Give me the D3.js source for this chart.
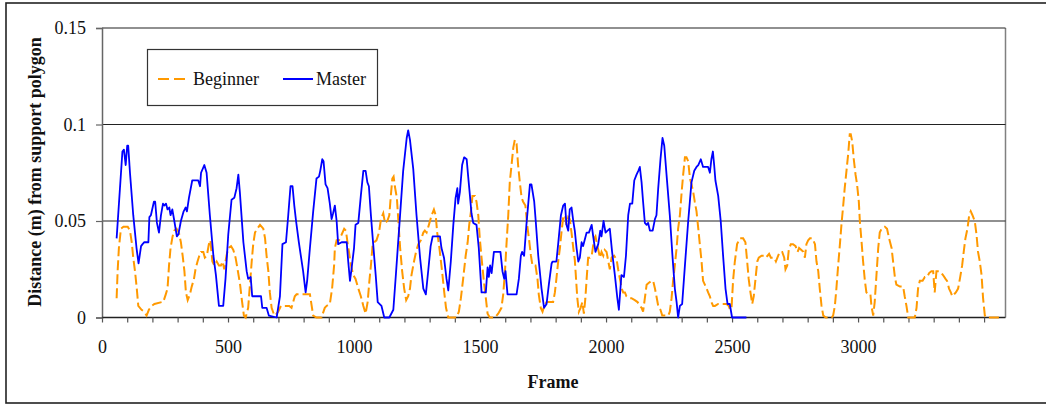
<!DOCTYPE html>
<html>
<head>
<meta charset="utf-8">
<script src="https://cdn.jsdelivr.net/npm/d3@7"></script>
<style>
  body { margin: 0; background: #fff; }
  svg { display: block; }
  svg text { font-family: "Liberation Serif", "Times New Roman", serif; fill: #111; }
</style>
</head>
<body>
<svg id="chart" width="1046" height="406"></svg>
<script>

// [frame, distance (m)]
const master = [
    [58,.041],[81,.086],[87,.087],[94,.079],[100,.089],[104,.089],[111,.075],[124,.053],[137,.036],[145,.028],
    [155,.037],[161,.038],[168,.039],[184,.039],[188,.052],[194,.053],[206,.060],[211,.060],[218,.049],[226,.044],
    [234,.053],[242,.059],[247,.058],[254,.059],[260,.056],[267,.057],[272,.053],[279,.056],[287,.050],[297,.042],
    [303,.043],[313,.050],[324,.055],[332,.057],[337,.055],[345,.062],[358,.071],[382,.071],[389,.068],[393,.075],
    [406,.079],[415,.075],[428,.053],[442,.032],[452,.022],[464,.006],[481,.006],[490,.020],[501,.043],[514,.061],
    [525,.062],[534,.067],[541,.074],[547,.065],[561,.039],[574,.024],[580,.020],[590,.021],[596,.011],[604,.011],
    [631,.011],[636,.005],[653,.005],[662,.001],[693,0],[706,.011],[716,.038],[730,.039],[739,.053],[748,.068],
    [756,.068],[763,.058],[770,.050],[781,.039],[798,.024],[808,.013],[814,.019],[825,.036],[838,.055],[851,.072],
    [861,.073],[866,.076],[874,.082],[879,.081],[887,.069],[895,.067],[904,.059],[911,.051],[917,.054],[924,.058],
    [931,.050],[937,.038],[951,.039],[971,.039],[977,.029],[984,.019],[990,.025],[1000,.036],[1006,.048],[1017,.049],
    [1027,.063],[1037,.076],[1046,.076],[1053,.070],[1059,.068],[1067,.053],[1076,.038],[1086,.022],[1094,.008],[1109,.006],
    [1120,0],[1140,0],[1156,.004],[1166,.022],[1180,.048],[1195,.076],[1209,.093],[1215,.097],[1222,.092],[1235,.077],
    [1248,.053],[1262,.031],[1275,.015],[1285,.012],[1295,.025],[1304,.037],[1312,.042],[1341,.042],[1347,.036],[1357,.031],
    [1367,.020],[1374,.014],[1384,.029],[1394,.048],[1403,.062],[1410,.067],[1413,.059],[1420,.065],[1429,.079],[1437,.083],
    [1447,.082],[1453,.073],[1460,.063],[1466,.054],[1473,.049],[1486,.048],[1495,.036],[1506,.013],[1523,.013],[1530,.026],
    [1535,.021],[1540,.027],[1546,.023],[1555,.034],[1581,.034],[1589,.024],[1596,.020],[1601,.024],[1609,.012],[1645,.012],
    [1654,.020],[1662,.032],[1667,.034],[1675,.032],[1684,.048],[1698,.069],[1704,.069],[1715,.060],[1721,.050],[1731,.032],
    [1744,.015],[1754,.005],[1764,.007],[1773,.017],[1784,.028],[1788,.029],[1803,.029],[1810,.038],[1821,.053],[1830,.058],
    [1837,.059],[1843,.048],[1850,.045],[1856,.056],[1863,.057],[1870,.050],[1876,.045],[1883,.036],[1890,.029],[1896,.031],
    [1903,.039],[1909,.037],[1923,.044],[1932,.044],[1943,.048],[1949,.042],[1958,.034],[1969,.038],[1977,.045],[1982,.042],
    [1990,.050],[1998,.044],[2006,.045],[2015,.046],[2024,.034],[2035,.022],[2044,.011],[2051,.004],[2061,.022],[2071,.021],
    [2079,.032],[2088,.053],[2095,.059],[2104,.059],[2112,.071],[2121,.074],[2128,.076],[2134,.078],[2141,.070],[2147,.060],
    [2154,.049],[2161,.048],[2167,.049],[2174,.045],[2185,.045],[2194,.051],[2200,.053],[2207,.067],[2216,.082],[2224,.093],
    [2231,.089],[2240,.074],[2253,.053],[2264,.031],[2273,.015],[2280,.008],[2286,0],[2293,.006],[2302,.007],[2313,.027],
    [2326,.050],[2339,.070],[2350,.076],[2359,.078],[2366,.079],[2376,.082],[2385,.078],[2399,.078],[2405,.078],[2412,.075],
    [2418,.082],[2424,.086],[2429,.079],[2434,.071],[2445,.063],[2455,.050],[2465,.031],[2474,.015],[2482,.007],[2491,.007],
    [2500,0],[2557,0]
];

const beginner = [
    [58,.010],[62,.024],[67,.036],[75,.046],[85,.047],[102,.047],[111,.045],[118,.039],[124,.031],[131,.024],
    [138,.015],[144,.006],[157,.004],[168,.003],[177,.001],[186,.004],[197,.006],[208,.007],[237,.008],[243,.008],
    [253,.012],[260,.015],[266,.027],[272,.036],[280,.042],[287,.045],[296,.046],[305,.044],[313,.039],[320,.032],
    [327,.024],[333,.013],[340,.009],[349,.012],[356,.016],[365,.020],[371,.025],[379,.029],[386,.032],[393,.034],
    [402,.034],[408,.031],[416,.032],[424,.038],[430,.040],[438,.029],[446,.027],[455,.029],[464,.027],[472,.027],
    [479,.029],[485,.025],[494,.032],[501,.036],[512,.037],[521,.035],[530,.031],[538,.025],[548,.017],[555,.009],
    [563,.001],[570,0],[580,.005],[587,.017],[594,.029],[600,.038],[607,.044],[616,.046],[627,.048],[640,.046],
    [647,.041],[653,.032],[660,.024],[666,.013],[673,.005],[684,.001],[693,.002],[699,.003],[710,.006],[719,.006],
    [743,.006],[752,.005],[765,.011],[772,.012],[781,.012],[792,.012],[825,.012],[832,.006],[838,.001],[851,0],
    [871,0],[884,.005],[891,.006],[904,.007],[913,.015],[921,.027],[924,.036],[931,.040],[940,.040],[951,.043],
    [961,.046],[968,.045],[975,.038],[980,.034],[988,.027],[997,.022],[1006,.020],[1017,.015],[1027,.011],[1037,.006],
    [1046,.002],[1054,.008],[1061,.019],[1067,.027],[1074,.038],[1080,.039],[1089,.040],[1099,.044],[1107,.051],[1116,.054],
    [1123,.049],[1132,.050],[1140,.053],[1146,.063],[1152,.072],[1157,.073],[1162,.068],[1170,.062],[1177,.048],[1183,.036],
    [1191,.024],[1199,.015],[1207,.009],[1215,.011],[1222,.015],[1228,.022],[1238,.029],[1246,.034],[1255,.038],[1265,.040],
    [1275,.044],[1281,.045],[1288,.044],[1297,.048],[1308,.053],[1317,.056],[1324,.053],[1330,.044],[1337,.038],[1345,.029],
    [1351,.022],[1358,.013],[1365,.005],[1374,0],[1407,0],[1416,.003],[1424,.010],[1433,.020],[1443,.032],[1451,.039],
    [1457,.048],[1464,.055],[1470,.063],[1480,.063],[1486,.060],[1493,.053],[1499,.041],[1506,.031],[1515,.019],[1523,.010],
    [1530,.002],[1539,0],[1559,0],[1572,.002],[1585,.005],[1592,.012],[1599,.024],[1605,.038],[1612,.053],[1618,.070],
    [1625,.079],[1632,.088],[1638,.092],[1645,.090],[1651,.079],[1658,.070],[1665,.062],[1671,.060],[1680,.058],[1687,.048],
    [1694,.041],[1702,.032],[1708,.027],[1720,.027],[1728,.020],[1733,.012],[1741,.005],[1748,.003],[1755,.006],[1764,.008],
    [1790,.008],[1797,.013],[1803,.020],[1810,.029],[1817,.036],[1823,.044],[1830,.052],[1837,.053],[1843,.048],[1850,.052],
    [1856,.051],[1863,.044],[1870,.036],[1876,.030],[1880,.022],[1886,.010],[1892,.003],[1899,.005],[1906,.008],[1912,.002],
    [1918,.010],[1923,.020],[1929,.031],[1936,.031],[1943,.032],[1953,.041],[1958,.042],[1966,.037],[1976,.031],[1982,.034],
    [1989,.032],[1995,.035],[2002,.034],[2009,.029],[2015,.025],[2022,.031],[2032,.032],[2042,.030],[2048,.025],[2055,.020],
    [2062,.015],[2068,.013],[2075,.013],[2081,.011],[2091,.010],[2101,.010],[2114,.009],[2125,.008],[2134,.006],[2141,.005],
    [2147,.003],[2154,.010],[2161,.017],[2170,.018],[2181,.019],[2187,.019],[2194,.015],[2200,.011],[2207,.006],[2216,.004],
    [2223,.001],[2247,.001],[2253,.003],[2260,.010],[2266,.019],[2273,.027],[2280,.036],[2286,.046],[2293,.053],[2300,.065],
    [2306,.074],[2313,.083],[2319,.083],[2326,.081],[2333,.072],[2339,.069],[2346,.065],[2352,.060],[2359,.055],[2366,.046],
    [2372,.038],[2379,.029],[2385,.019],[2392,.017],[2399,.015],[2405,.013],[2412,.011],[2418,.008],[2425,.006],[2432,.006],
    [2445,.007],[2478,.007],[2487,.006],[2492,.004],[2498,.005],[2504,.019],[2511,.029],[2520,.038],[2531,.041],[2544,.041],
    [2553,.039],[2560,.029],[2566,.020],[2573,.013],[2580,.007],[2586,.011],[2593,.020],[2600,.029],[2606,.031],[2617,.032],
    [2626,.032],[2633,.031],[2641,.032],[2647,.033],[2654,.031],[2660,.031],[2667,.031],[2674,.029],[2680,.031],[2689,.034],
    [2699,.034],[2707,.031],[2712,.025],[2719,.027],[2725,.035],[2733,.038],[2742,.038],[2752,.037],[2760,.034],[2766,.036],
    [2775,.035],[2783,.034],[2789,.031],[2795,.038],[2802,.040],[2809,.041],[2819,.041],[2829,.038],[2835,.029],[2842,.024],
    [2848,.015],[2855,.006],[2862,.001],[2872,0],[2895,0],[2901,.001],[2908,.006],[2914,.015],[2921,.027],[2928,.038],
    [2934,.048],[2941,.058],[2947,.067],[2954,.076],[2961,.085],[2967,.095],[2971,.095],[2977,.091],[2983,.082],[2990,.074],
    [2996,.069],[3003,.060],[3007,.050],[3014,.039],[3020,.029],[3027,.019],[3033,.013],[3040,.012],[3049,.012],[3053,.006],
    [3060,.001],[3066,.008],[3073,.022],[3080,.036],[3086,.044],[3093,.046],[3106,.047],[3115,.046],[3123,.041],[3133,.036],
    [3139,.029],[3146,.021],[3152,.017],[3166,.016],[3179,.016],[3185,.011],[3192,.006],[3199,0],[3225,0],[3232,.005],
    [3238,.015],[3245,.019],[3256,.019],[3265,.021],[3274,.021],[3282,.023],[3291,.024],[3298,.024],[3304,.013],[3311,.024],
    [3322,.024],[3331,.023],[3337,.022],[3347,.020],[3353,.019],[3361,.015],[3368,.013],[3374,.011],[3381,.012],[3388,.013],
    [3397,.015],[3404,.020],[3413,.027],[3421,.036],[3426,.041],[3434,.046],[3441,.053],[3447,.055],[3454,.053],[3463,.050],
    [3470,.043],[3476,.034],[3483,.029],[3490,.022],[3496,.010],[3503,.001],[3509,0],[3569,0]
];

const xTicks = d3.range(0, 3501, 100);
const xLabels = [0, 500, 1000, 1500, 2000, 2500, 3000];
const yTicks = [0, 0.05, 0.1, 0.15];
const seriesNames = ["Beginner", "Master"];

const svg = d3.select("#chart");

// plot area box
const plotLeft = 102, plotRight = 1005.5, plotTop = 28, plotBottom = 317.5;

const x = d3.scaleLinear().domain([0, 3585]).range([plotLeft, plotRight]);
const y = d3.scaleLinear().domain([0, 0.15]).range([plotBottom, plotTop]);

// outer chart border (right edge runs off the picture)
svg.append("rect")
    .attr("x", 6).attr("y", 3)
    .attr("width", 1060).attr("height", 400)
    .attr("fill", "none")
    .attr("stroke", "#222")
    .attr("stroke-width", 1.6);

// plot area frame, right side is gray
svg.append("line")
    .attr("x1", plotRight).attr("x2", plotRight)
    .attr("y1", plotTop).attr("y2", plotBottom)
    .attr("stroke", "#808080").attr("stroke-width", 1.5);

// gridlines
svg.append("g")
    .selectAll("line")
    .data(yTicks.filter(d => d > 0))
    .enter().append("line")
    .attr("x1", plotLeft).attr("x2", plotRight)
    .attr("y1", d => y(d)).attr("y2", d => y(d))
    .attr("stroke", "#222").attr("stroke-width", 1.2);

// y axis
let yAxis = d3.axisLeft(y)
    .tickValues(yTicks)
    .tickSize(6)
    .tickPadding(10)
    .tickFormat(d => d3.format("~g")(d));

let gy = svg.append("g")
    .attr("transform", `translate(${plotLeft},0)`)
    .call(yAxis);
gy.select(".domain").attr("stroke", "#666").attr("stroke-width", 1.5);
gy.selectAll(".tick line").attr("stroke", "#666").attr("stroke-width", 1.2);
gy.selectAll("text").style("font-size", "18px");

// x axis: minor ticks every 100 frames, labels every 500
let xAxis = d3.axisBottom(x)
    .tickValues(xTicks)
    .tickSize(5)
    .tickPadding(18)
    .tickFormat(d => xLabels.includes(d) ? d : "");

let gx = svg.append("g")
    .attr("transform", `translate(0,${plotBottom})`)
    .call(xAxis);
gx.select(".domain").attr("stroke", "#222").attr("stroke-width", 1.5).attr("d", `M${plotLeft},0H${plotRight}`);
gx.selectAll(".tick line").attr("stroke", "#555").attr("stroke-width", 1.2);
gx.selectAll("text").style("font-size", "18px");

// series
const line = d3.line()
    .x(d => x(d[0]))
    .y(d => y(d[1]));

svg.append("path")
    .datum(beginner)
    .attr("d", line)
    .attr("fill", "none")
    .attr("stroke", "#FF9900")
    .attr("stroke-width", 2)
    .attr("stroke-dasharray", "10,4");

svg.append("path")
    .datum(master)
    .attr("d", line)
    .attr("fill", "none")
    .attr("stroke", "#0000FF")
    .attr("stroke-width", 1.8)
    .attr("stroke-linejoin", "round");

// axis titles
svg.append("text")
    .attr("x", 553).attr("y", 388)
    .attr("text-anchor", "middle")
    .style("font-size", "18px").style("font-weight", "bold")
    .text("Frame");

svg.append("text")
    .attr("transform", "translate(41,172) rotate(-90)")
    .attr("text-anchor", "middle")
    .style("font-size", "18px").style("font-weight", "bold")
    .text("Distance (m) from support polygon");

// legend
let legend = svg.append("g");
legend.append("rect")
    .attr("x", 147.5).attr("y", 49.5)
    .attr("width", 230).attr("height", 56)
    .attr("fill", "#fff")
    .attr("stroke", "#333").attr("stroke-width", 1.2);

const legendItems = [
    {name: seriesNames[0], color: "#FF9900", dash: "11,5", x: 158, tx: 193},
    {name: seriesNames[1], color: "#0000FF", dash: null, x: 283, tx: 316}
];

legendItems.forEach(d => {
    legend.append("line")
        .attr("x1", d.x).attr("x2", d.x + 30)
        .attr("y1", 79).attr("y2", 79)
        .attr("stroke", d.color).attr("stroke-width", 2)
        .attr("stroke-dasharray", d.dash);
    legend.append("text")
        .attr("x", d.tx).attr("y", 85)
        .style("font-size", "18px")
        .text(d.name);
});

</script>
</body>
</html>
